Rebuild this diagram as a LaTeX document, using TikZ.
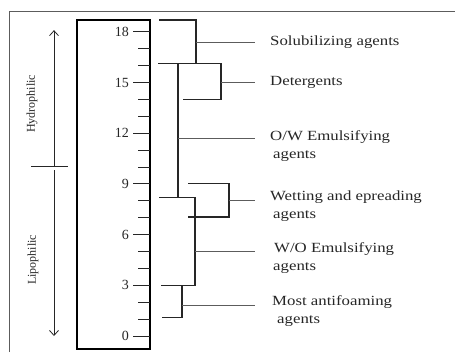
\documentclass[tikz,border=0pt]{standalone}
\usepackage{fontspec}
\setmainfont{Liberation Serif}
\newfontfamily\widefont[FakeStretch=1.2]{Liberation Serif}
\usetikzlibrary{arrows.meta}
\definecolor{hlbdark}{HTML}{262626}
\definecolor{hlbgrey}{HTML}{5C5C5C}

\begin{document}
\begin{tikzpicture}[x=1pt, y=16.9pt,
    scalebox/.style={draw=black, line width=1.6pt},
    tickmark/.style={hlbdark, line width=0.9pt},
    brk/.style={hlbdark, line width=1.1pt},
    conn/.style={hlbgrey, line width=0.8pt, shorten >=15pt},
    lbl/.style={anchor=north west, inner sep=0pt, align=left, text=hlbdark,
                font=\widefont\fontsize{14}{18}\selectfont},
    hlbnum/.style={anchor=east, inner sep=0pt, text=hlbdark,
                   font=\fontsize{14}{14}\selectfont},
    sidelbl/.style={rotate=90, inner sep=0pt, text=hlbdark,
                    font=\fontsize{12}{12}\selectfont},
    arr/.style={-{Straight Barb[length=5pt, width=9pt]}, hlbdark, line width=0.8pt}]
  \useasboundingbox (0,-0.947) rectangle (455,19.882);
  % frame
  \draw[hlbgrey, line width=0.9pt] (9,-0.947) |- (455,19.23);
  % HLB scale
  \draw[scalebox] (77,-0.77) rectangle (150,18.7);
  \foreach \v in {0,...,18}
    \draw[tickmark] (138,\v) -- (150,\v);
  \foreach \v in {0,3,...,18} {
    \draw[tickmark] (133,\v) -- (138,\v);
    \node[hlbnum] (n\v) at (129,\v) {\v};
  }
  % hydrophilic / lipophilic arrows
  \coordinate (hyTop) at (54,18.1);
  \coordinate (hyBot) at (54,10.06);
  \coordinate (liTop) at (54,9.8);
  \coordinate (liBot) at (54,0);
  \draw[arr] (hyBot) -- (hyTop);
  \draw[arr] (liTop) -- (liBot);
  \draw[hlbdark, line width=0.8pt] (31,10.06) -- (68,10.06);
  \node[sidelbl] (hydro) at (32,13.73) {Hydrophilic};
  \node[sidelbl] (lipo) at (33,4.5) {Lipophilic};
  % brackets
  \draw[brk] (159,18.7) -| (196,16.1);
  \draw[brk] (158,16.1) -| (221,14.0) -- (183,14.0);
  \draw[brk] (178,16.1) -- (178,8.2);
  \draw[brk] (188,9.05) -| (229,7.04) -- (188,7.04);
  \draw[brk] (159,8.2) -| (195,3.0) -- (161,3.0);
  \draw[brk] (182,3.0) |- (162,1.07);
  \coordinate (solB) at (196,17.4);
  \coordinate (detB) at (221,15.0);
  \coordinate (owB) at (178,11.7);
  \coordinate (wetB) at (229,8.05);
  \coordinate (woB) at (195,5.0);
  \coordinate (foamB) at (182,1.8);
  % labels
  \node[lbl] (sol) at (270,17.78) {Solubilizing agents};
  \node[lbl] (det) at (270,15.36) {Detergents};
  \node[lbl] (ow) at (270,12.16) {O/W Emulsifying\\\hspace*{3pt}agents};
  \node[lbl] (wet) at (270,8.61) {Wetting and epreading\\\hspace*{3pt}agents};
  \node[lbl] (wo) at (270,5.53) {\hspace*{4pt}W/O Emulsifying\\\hspace*{3pt}agents};
  \node[lbl] (foam) at (270,2.40) {\hspace*{2pt}Most antifoaming\\\hspace*{7pt}agents};
  % connectors
  \draw[conn] (solB) -- (solB -| sol.west);
  \draw[conn] (detB) -- (detB -| det.west);
  \draw[conn] (owB) -- (owB -| ow.west);
  \draw[conn] (wetB) -- (wetB -| wet.west);
  \draw[conn] (woB) -- (woB -| wo.west);
  \draw[conn] (foamB) -- (foamB -| foam.west);
\end{tikzpicture}
\end{document}
